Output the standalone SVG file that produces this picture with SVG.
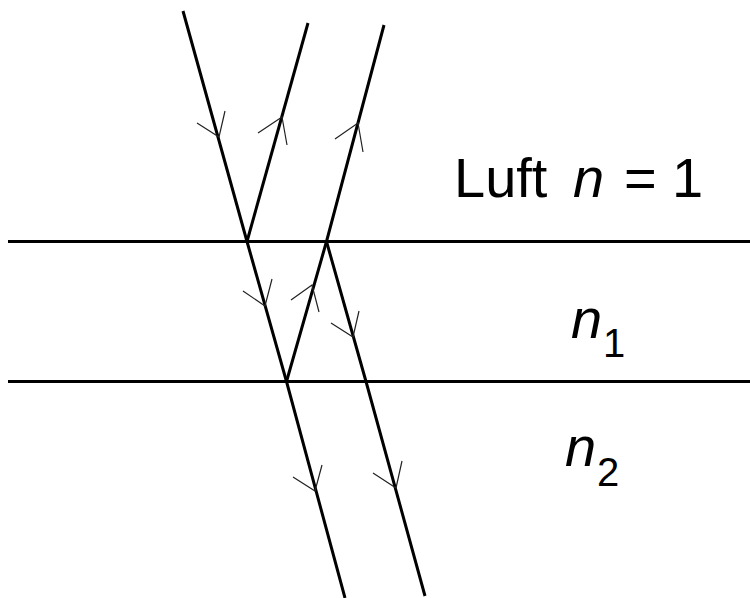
<svg xmlns="http://www.w3.org/2000/svg" width="750" height="598" viewBox="0 0 750 598">
<style>
.ln{stroke:#000;stroke-width:3;fill:none;stroke-linejoin:round}
.ar{stroke:#222;stroke-width:1.2;fill:none}
.t{font-family:"Liberation Sans",Arial,sans-serif;fill:#000}
.i{font-style:italic}
</style>
<rect width="750" height="598" fill="#fff"/>
<g id="boundaries">
<line class="ln" x1="8" y1="241.5" x2="750" y2="241.5"/>
<line class="ln" x1="8" y1="381.5" x2="750" y2="381.5"/>
</g>
<g id="rays">
<polyline class="ln" points="183,11 247,241.5 286.5,381.5 345,598"/>
<line class="ln" x1="247" y1="241.5" x2="308" y2="23"/>
<polyline class="ln" points="286.5,381.5 326.5,241.5 384,25"/>
<polyline class="ln" points="326.5,241.5 366,381.5 425,596"/>
</g>
<g id="arrows">
<polyline class="ar" points="197,123 219,137 225,111"/>
<polyline class="ar" points="258,133 282,117 287,145"/>
<polyline class="ar" points="335,139 358,123 363,152"/>
<polyline class="ar" points="243,291 265,306 272,279"/>
<polyline class="ar" points="291,300 312,285 319,312"/>
<polyline class="ar" points="331,323 353,337 359,311"/>
<polyline class="ar" points="293,477 315,491 322,465"/>
<polyline class="ar" points="373,473 396,488 402,461"/>
</g>
<g id="labels">
<text class="t" font-size="56" y="197"><tspan x="454">Luft</tspan><tspan class="i" x="573">n</tspan><tspan x="624">=</tspan><tspan x="672">1</tspan></text>
<text class="t" font-size="56" y="338"><tspan class="i" x="571">n</tspan><tspan font-size="40" x="603" y="357">1</tspan></text>
<text class="t" font-size="56" y="466"><tspan class="i" x="565">n</tspan><tspan font-size="40" x="597" y="486">2</tspan></text>
</g>
</svg>
